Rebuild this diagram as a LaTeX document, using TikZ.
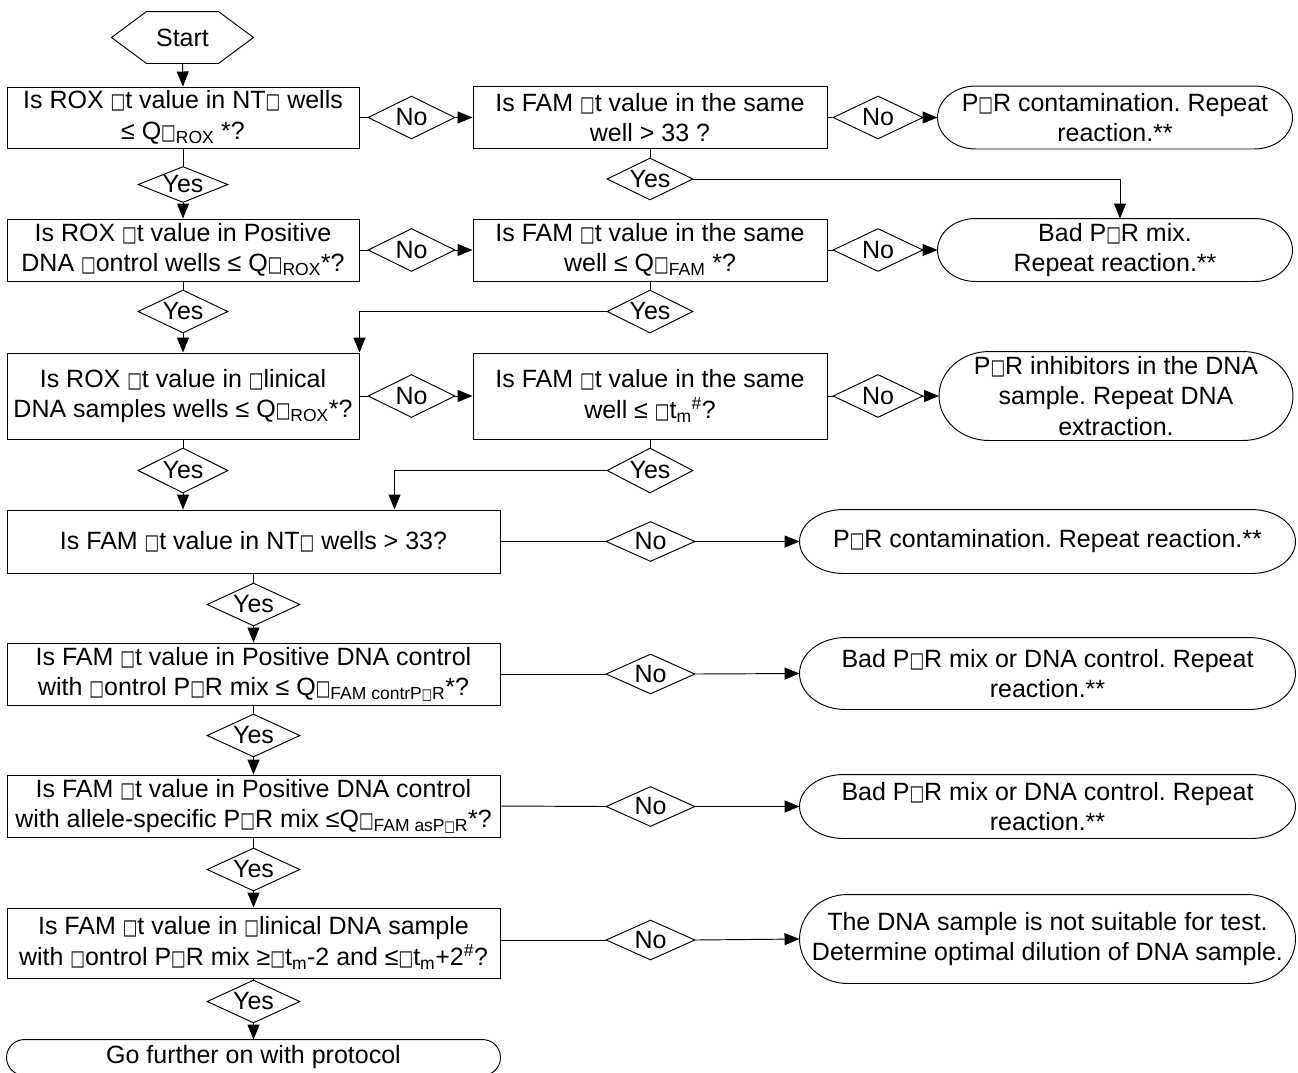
\documentclass[tikz,border=0pt]{standalone}
\usepackage{fontspec}
\setmainfont{Liberation Sans}
\newfontfamily\symf{DejaVu Sans}
\usetikzlibrary{arrows.meta,shapes.geometric,calc}
\newcommand\bx{{\symf\scalebox{0.62}[0.85]{□}}}
\newcommand\termout[2]{%
  \draw let \p1=(#1.north east), \p2=(#1.south west), \n1={(\y1-\y2)/2} in
  (\x2+#2,\y1) -- (\x1-#2,\y1) arc[start angle=90,end angle=-90,x radius=#2,y radius=\n1]
  -- (\x2+#2,\y2) arc[start angle=270,end angle=90,x radius=#2,y radius=\n1] -- cycle;}
\frenchspacing
\begin{document}
\begin{tikzpicture}[x=1pt,y=1pt,line width=0.95pt,
  font=\fontsize{25}{30.5}\selectfont\frenchspacing,
  box/.style={draw, rectangle, inner sep=0pt, align=center},
  term/.style={rectangle, inner sep=0pt, align=center},
  dia/.style={draw, diamond, aspect=2.2, inner sep=0pt},
  arr/.style={-{Triangle[length=15pt,width=12pt]}}]
\useasboundingbox (0,0) rectangle (1298,-1072);

% start
\node[term, minimum width=141pt, minimum height=51pt] (start) at (182.5,-37.5) {Start};
\draw (start.west) -- ([xshift=35pt]start.north west) -- ([xshift=-35pt]start.north east)
  -- (start.east) -- ([xshift=-35pt]start.south east) -- ([xshift=35pt]start.south west) -- cycle;

% left column rows 1-3
\node[box, minimum width=352pt, minimum height=61pt] (b1) at (183,-117.5)
  {Is ROX \bx t value in NT\bx{} wells\\ ≤ Q\bx\textsubscript{ROX} *?};
\node[box, minimum width=352pt, minimum height=62pt] (b2) at (183,-250)
  {Is ROX \bx t value in Positive\\ DNA \bx ontrol wells ≤ Q\bx\textsubscript{ROX}*?};
\node[box, minimum width=352pt, minimum height=86pt] (b3) at (183,-396)
  {Is ROX \bx t value in \bx linical\\ DNA samples wells ≤ Q\bx\textsubscript{ROX}*?};

% middle column
\node[box, minimum width=354pt, minimum height=62pt] (m1) at (650,-117.5)
  {Is FAM \bx t value in the same\\ well > 33 ?};
\node[box, minimum width=354pt, minimum height=62pt] (m2) at (650,-250)
  {Is FAM \bx t value in the same\\ well ≤ Q\bx\textsubscript{FAM} *?};
\node[box, minimum width=354pt, minimum height=86pt] (m3) at (650,-396)
  {Is FAM \bx t value in the same\\ well ≤ \bx t\textsubscript{m}\textsuperscript{\#}?};

% right terminators rows 1-3
\node[term, minimum width=354pt, minimum height=62pt] (t1) at (1115,-117.5)
  {P\bx R contamination. Repeat\\ reaction.**};
\node[term, minimum width=354pt, minimum height=62pt] (t2) at (1115,-250)
  {Bad P\bx R mix.\\ Repeat reaction.**};
\node[term, minimum width=353pt, minimum height=88pt] (t3) at (1116,-396)
  {P\bx R inhibitors in the DNA\\ sample. Repeat DNA\\ extraction.};
\termout{t1}{38pt}
\termout{t2}{38pt}
\termout{t3}{50pt}

% diamonds rows 1-3
\node[dia, minimum width=87pt, minimum height=43pt] (n1a) at (411.5,-117.5) {No};
\node[dia, minimum width=87pt, minimum height=43pt] (n2a) at (411.5,-250) {No};
\node[dia, minimum width=87pt, minimum height=43pt] (n3a) at (411.5,-396) {No};
\node[dia, minimum width=90pt, minimum height=43pt] (n1b) at (878,-117.5) {No};
\node[dia, minimum width=90pt, minimum height=43pt] (n2b) at (878,-250) {No};
\node[dia, minimum width=90pt, minimum height=43pt] (n3b) at (878,-396) {No};
\node[dia, minimum width=90pt, minimum height=36pt] (y1) at (183,-184.5) {Yes};
\node[dia, minimum width=90pt, minimum height=43pt] (y2) at (183,-311.5) {Yes};
\node[dia, minimum width=90pt, minimum height=45pt] (y3) at (183,-470.5) {Yes};
\node[dia, minimum width=86pt, minimum height=42pt] (ym1) at (650,-179) {Yes};
\node[dia, minimum width=86pt, minimum height=43pt] (ym2) at (650,-311.5) {Yes};
\node[dia, minimum width=86pt, minimum height=45pt] (ym3) at (650,-470.5) {Yes};

% lower left column
\node[box, minimum width=493pt, minimum height=63pt] (b4) at (253.5,-541.5)
  {Is FAM \bx t value in NT\bx{} wells > 33?};
\node[box, minimum width=493pt, minimum height=62pt] (b5) at (253.5,-674)
  {Is FAM \bx t value in Positive DNA control\\ with \bx ontrol P\bx R mix ≤ Q\bx\textsubscript{FAM contrP\bx R}*?};
\node[box, minimum width=493pt, minimum height=62pt] (b6) at (253.5,-806)
  {Is FAM \bx t value in Positive DNA control\\ with allele-specific P\bx R mix ≤Q\bx\textsubscript{FAM asP\bx R}*?};
\node[box, minimum width=493pt, minimum height=70pt] (b7) at (253.5,-943)
  {Is FAM \bx t value in \bx linical DNA sample\\ with \bx ontrol P\bx R mix ≥\bx t\textsubscript{m}-2 and ≤\bx t\textsubscript{m}+2\textsuperscript{\#}?};
\node[term, minimum width=493pt, minimum height=35pt] (fin) at (253.5,-1057.5)
  {Go further on with protocol};
\termout{fin}{18pt}

\node[dia, minimum width=93pt, minimum height=43pt] (y4) at (253.5,-604.5) {Yes};
\node[dia, minimum width=93pt, minimum height=43pt] (y5) at (253.5,-735.5) {Yes};
\node[dia, minimum width=93pt, minimum height=43pt] (y6) at (253.5,-869.5) {Yes};
\node[dia, minimum width=93pt, minimum height=43pt] (y7) at (253.5,-1001.5) {Yes};

% lower right
\node[dia, minimum width=89pt, minimum height=40pt] (n4) at (650.5,-541.5) {No};
\node[dia, minimum width=89pt, minimum height=40pt] (n5) at (650.5,-674) {No};
\node[dia, minimum width=89pt, minimum height=40pt] (n6) at (650.5,-806.5) {No};
\node[dia, minimum width=89pt, minimum height=40pt] (n7) at (650.5,-940) {No};
\node[term, minimum width=495pt, minimum height=63pt] (t4) at (1047.5,-541.5)
  {P\bx R contamination. Repeat reaction.**};
\node[term, minimum width=495pt, minimum height=71pt] (t5) at (1047.5,-673.5)
  {Bad P\bx R mix or DNA control. Repeat\\ reaction.**};
\node[term, minimum width=495pt, minimum height=63pt] (t6) at (1047.5,-806.5)
  {Bad P\bx R mix or DNA control. Repeat\\ reaction.**};
\node[term, minimum width=495pt, minimum height=88pt] (t7) at (1047.5,-939)
  {The DNA sample is not suitable for test.\\ Determine optimal dilution of DNA sample.};
\termout{t4}{44pt}
\termout{t5}{46pt}
\termout{t6}{44pt}
\termout{t7}{48pt}

% connectors
\draw[arr] (start.south) -- (b1.north);
\draw (b1.south) -- (y1.north);
\draw[arr] (y1.south) -- (b2.north);
\draw (b2.south) -- (y2.north);
\draw[arr] (y2.south) -- (b3.north);
\draw (b3.south) -- (y3.north);
\draw[arr] (y3.south) -- (y3.south |- b4.north);

\draw (b1.east) -- (n1a.west);
\draw[arr] (n1a.east) -- (m1.west);
\draw (m1.east) -- (n1b.west);
\draw[arr] (n1b.east) -- (t1.west);
\draw (b2.east) -- (n2a.west);
\draw[arr] (n2a.east) -- (m2.west);
\draw (m2.east) -- (n2b.west);
\draw[arr] (n2b.east) -- (t2.west);
\draw (b3.east) -- (n3a.west);
\draw[arr] (n3a.east) -- (m3.west);
\draw (m3.east) -- (n3b.west);
\draw[arr] (n3b.east) -- (t3.west);

\draw (m1.south) -- (ym1.north);
\draw[arr] (ym1.east) -| ([xshift=5pt]t2.north);
\draw (m2.south) -- (ym2.north);
\draw[arr] (ym2.west) -| (b3.north east);
\draw (m3.south) -- (ym3.north);
\coordinate (b4in) at ([xshift=388pt]b4.north west);
\draw[arr] (ym3.west) -| (b4in);

\draw (b4.south) -- (y4.north);
\draw[arr] (y4.south) -- (b5.north);
\draw (b5.south) -- (y5.north);
\draw[arr] (y5.south) -- (b6.north);
\draw (b6.south) -- (y6.north);
\draw[arr] (y6.south) -- (b7.north);
\draw (b7.south) -- (y7.north);
\draw[arr] (y7.south) -- (fin.north);

\draw (b4.east) -- (n4.west);
\draw[arr] (n4.east) -- (t4.west);
\draw (b5.east) -- (n5.west);
\draw[arr] (n5.east) -- (t5.west);
\draw (b6.east) -- (n6.west);
\draw[arr] (n6.east) -- (t6.west);
\draw (b7.east |- n7.west) -- (n7.west);
\draw[arr] (n7.east) -- (t7.west);
\end{tikzpicture}
\end{document}
